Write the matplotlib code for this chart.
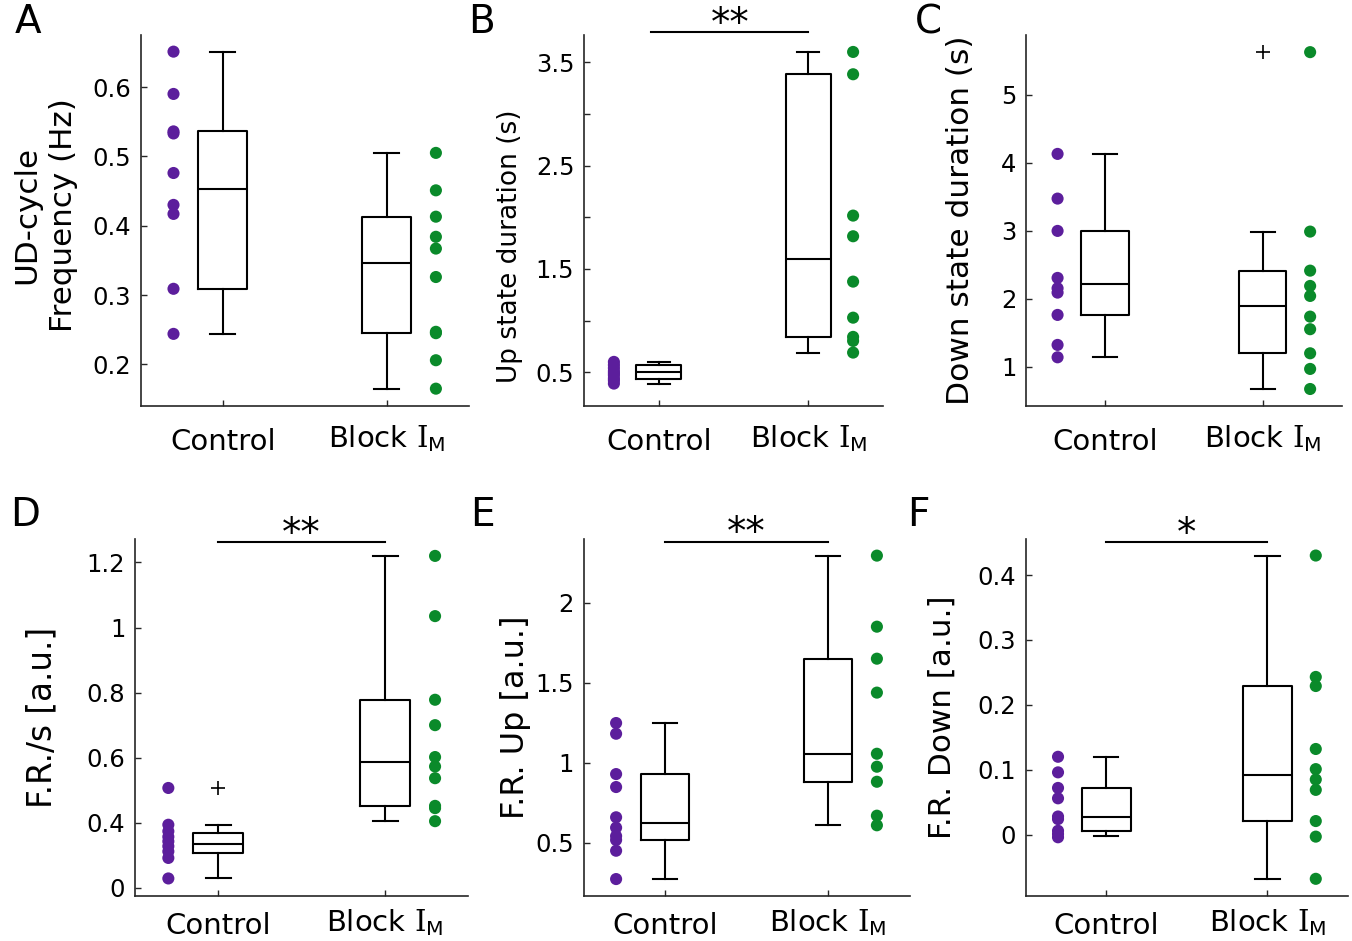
import matplotlib
matplotlib.use("Agg")
import matplotlib.pyplot as plt

plt.rcParams['font.family'] = ['DejaVu Sans']
plt.rcParams['mathtext.fontset'] = 'custom'
plt.rcParams['mathtext.rm'] = 'DejaVu Serif'
plt.rcParams['mathtext.sf'] = 'DejaVu Sans'
plt.rcParams['mathtext.it'] = 'DejaVu Sans:italic'
plt.rcParams['mathtext.bf'] = 'DejaVu Sans:bold'

# ---------------- data ----------------
categories = ["Control", r"Block $\mathrm{I}_{\mathsf{M}}$"]

# Panel A: UD-cycle frequency (Hz)
A_control = [0.651, 0.590, 0.536, 0.533, 0.476, 0.430, 0.417, 0.309, 0.244]
A_block = [0.505, 0.451, 0.413, 0.384, 0.367, 0.326, 0.247, 0.245, 0.206, 0.165]
# box stats: [whisker low, q1, median, q3, whisker high]
A_box_control = [0.244, 0.309, 0.453, 0.537, 0.651]
A_box_block = [0.165, 0.245, 0.346, 0.413, 0.505]
A_out_control = []
A_out_block = []

# Panel B: Up state duration (s)
B_control = [0.60, 0.57, 0.54, 0.51, 0.49, 0.47, 0.44, 0.42, 0.39]
B_block = [3.60, 3.384, 2.016, 1.816, 1.377, 1.028, 0.842, 0.803, 0.690]
B_box_control = [0.390, 0.438, 0.503, 0.574, 0.603]
B_box_block = [0.687, 0.839, 1.596, 3.384, 3.60]
B_out_control = []
B_out_block = []

# Panel C: Down state duration (s)
C_control = [4.132, 3.475, 3.0, 2.309, 2.157, 2.093, 1.765, 1.324, 1.142]
C_block = [5.628, 2.99, 2.416, 2.191, 2.044, 1.74, 1.555, 1.201, 0.971, 0.676]
C_box_control = [1.142, 1.765, 2.225, 3.0, 4.132]
C_box_block = [0.676, 1.206, 1.892, 2.416, 2.99]
C_out_control = []
C_out_block = [5.628]

# Panel D: F.R./s [a.u.]
D_control = [0.507, 0.394, 0.374, 0.357, 0.343, 0.328, 0.312, 0.292, 0.229]
D_block = [1.220, 1.035, 0.778, 0.700, 0.602, 0.573, 0.537, 0.452, 0.445, 0.405]
D_box_control = [0.229, 0.307, 0.336, 0.370, 0.394]
D_box_block = [0.405, 0.452, 0.588, 0.778, 1.220]
D_out_control = [0.507]
D_out_block = []

# Panel E: F.R. Up [a.u.]
E_control = [1.248, 1.181, 0.929, 0.848, 0.659, 0.594, 0.542, 0.517, 0.450, 0.273]
E_block = [2.294, 1.85, 1.65, 1.438, 1.056, 0.975, 0.881, 0.669, 0.609]
E_box_control = [0.273, 0.515, 0.625, 0.929, 1.248]
E_box_block = [0.609, 0.881, 1.056, 1.65, 2.294]
E_out_control = []
E_out_block = []

# Panel F: F.R. Down [a.u.]
F_control = [0.120, 0.096, 0.072, 0.056, 0.028, 0.024, 0.006, 0.001, -0.004]
F_block = [0.430, 0.243, 0.229, 0.132, 0.101, 0.085, 0.069, 0.021, -0.003, -0.068]
F_box_control = [-0.002, 0.006, 0.027, 0.072, 0.120]
F_box_block = [-0.068, 0.021, 0.092, 0.229, 0.430]
F_out_control = []
F_out_block = []

# axis settings
A_yticks = [0.2, 0.3, 0.4, 0.5, 0.6]
A_yticklabels = ['0.2', '0.3', '0.4', '0.5', '0.6']
B_yticks = [0.5, 1.0, 1.5, 2.0, 2.5, 3.0, 3.5]
B_yticklabels = ['0.5', '', '1.5', '', '2.5', '', '3.5']
C_yticks = [1, 2, 3, 4, 5]
C_yticklabels = ['1', '2', '3', '4', '5']
D_yticks = [0.2, 0.4, 0.6, 0.8, 1.0, 1.2]
D_yticklabels = ['0', '0.4', '0.6', '0.8', '1', '1.2']
E_yticks = [0.5, 1.0, 1.5, 2.0]
E_yticklabels = ['0.5', '1', '1.5', '2']
F_yticks = [0.0, 0.1, 0.2, 0.3, 0.4]
F_yticklabels = ['0', '0.1', '0.2', '0.3', '0.4']

ylabels = ["UD-cycle\nFrequency (Hz)", "Up state duration (s)", "Down state duration (s)",
           "F.R./s [a.u.]", "F.R. Up [a.u.]", "F.R. Down [a.u.]"]
letters = ["A", "B", "C", "D", "E", "F"]

# significance: (x start, x end, y, text)
B_sig = (0.95, 2.0, 3.79, '**')
D_sig = (1.0, 2.0, 1.263, '**')
E_sig = (1.0, 2.0, 2.381, '**')
F_sig = (1.0, 2.0, 0.451, '*')

# ---------------- style / layout ----------------
W, H = 1352, 941
purple = '#5c1e9c'
green = '#0a8a2a'
spine_col = '#262626'

panels = [
    dict(ctrl=A_control, blk=A_block, bc=A_box_control, bb=A_box_block, oc=A_out_control, ob=A_out_block,
         yt=A_yticks, ytl=A_yticklabels, ylim=(0.140, 0.675), rect=(140.7, 35, 468.7, 406), sig=None,
         lab=(-0.292, 0.514), lfs=22.3, letter=(28, 22)),
    dict(ctrl=B_control, blk=B_block, bc=B_box_control, bb=B_box_block, oc=B_out_control, ob=B_out_block,
         yt=B_yticks, ytl=B_yticklabels, ylim=(0.173, 3.764), rect=(584, 35, 883, 406), sig=B_sig,
         lab=(-0.247, 0.43), lfs=19, letter=(481, 22)),
    dict(ctrl=C_control, blk=C_block, bc=C_box_control, bb=C_box_block, oc=C_out_control, ob=C_out_block,
         yt=C_yticks, ytl=C_yticklabels, ylim=(0.426, 5.88), rect=(1026, 35, 1341.7, 406), sig=None,
         lab=(-0.206, 0.5), lfs=22.5, letter=(928, 22)),
    dict(ctrl=D_control, blk=D_block, bc=D_box_control, bb=D_box_block, oc=D_out_control, ob=D_out_block,
         yt=D_yticks, ytl=D_yticklabels, ylim=(0.176, 1.271), rect=(135, 539.3, 468.4, 895.7), sig=D_sig,
         lab=(-0.279, 0.5), lfs=23.5, letter=(25, 515)),
    dict(ctrl=E_control, blk=E_block, bc=E_box_control, bb=E_box_block, oc=E_out_control, ob=E_out_block,
         yt=E_yticks, ytl=E_yticklabels, ylim=(0.169, 2.396), rect=(583.5, 539.3, 909.5, 895.7), sig=E_sig,
         lab=(-0.21, 0.5), lfs=23, letter=(482, 515)),
    dict(ctrl=F_control, blk=F_block, bc=F_box_control, bb=F_box_block, oc=F_out_control, ob=F_out_block,
         yt=F_yticks, ytl=F_yticklabels, ylim=(-0.094, 0.455), rect=(1025.8, 539.3, 1348, 895.7), sig=F_sig,
         lab=(-0.261, 0.5), lfs=22.3, letter=(918, 515)),
]

fig = plt.figure(figsize=(W / 100, H / 100), dpi=100)


def stats(b, out):
    return dict(whislo=b[0], q1=b[1], med=b[2], q3=b[3], whishi=b[4], fliers=out)


for i, p in enumerate(panels):
    l, t, r, b = p['rect']
    ax = fig.add_axes([l / W, 1 - b / H, (r - l) / W, (b - t) / H])
    ax.bxp([stats(p['bc'], p['oc']), stats(p['bb'], p['ob'])], positions=[1, 2],
           widths=0.3, capwidths=0.15, showfliers=True,
           boxprops=dict(color='black', linewidth=1.5),
           whiskerprops=dict(color='black', linewidth=1.5),
           capprops=dict(color='black', linewidth=1.5),
           medianprops=dict(color='black', linewidth=1.5),
           flierprops=dict(marker='+', markeredgecolor='black', markersize=10, markeredgewidth=1.2))
    ax.scatter([0.7] * len(p['ctrl']), p['ctrl'], s=76, color=purple, edgecolors='none', zorder=3, clip_on=False)
    ax.scatter([2.3] * len(p['blk']), p['blk'], s=76, color=green, edgecolors='none', zorder=3, clip_on=False)
    ax.set_xlim(0.5, 2.5)
    ax.set_ylim(*p['ylim'])
    ax.set_yticks(p['yt'])
    ax.set_yticklabels(p['ytl'])
    ax.set_xticks([1, 2])
    ax.set_xticklabels(categories, fontsize=21)
    ax.tick_params(axis='y', direction='in', length=4, width=1, color=spine_col, labelsize=17.5, pad=7)
    ax.tick_params(axis='x', direction='in', length=4, width=1, color=spine_col, pad=16 if i < 3 else 12)
    # Block label sits slightly higher (as in reference)
    ax.get_xticklabels()[1].set_y(5.0 / (b - t))
    for s in ['top', 'right']:
        ax.spines[s].set_visible(False)
    for s in ['left', 'bottom']:
        ax.spines[s].set_color(spine_col)
        ax.spines[s].set_linewidth(1.2)
    ax.set_ylabel(ylabels[i], fontsize=p['lfs'], linespacing=1.34)
    ax.yaxis.label.set_verticalalignment('center')
    ax.yaxis.set_label_coords(*p['lab'])
    if p['sig'] is not None:
        x0, x1, y, txt = p['sig']
        ax.plot([x0, x1], [y, y], color='black', lw=1.5, clip_on=False)
        ax.annotate(txt, xy=((x0 + x1) / 2, y), xytext=(0, -2), textcoords='offset points',
                    ha='center', va='baseline', fontsize=28, annotation_clip=False)
    fig.text(p['letter'][0] / W, 1 - p['letter'][1] / H, letters[i], fontsize=28,
             ha='center', va='center')

fig.savefig('out.png', dpi=100)
